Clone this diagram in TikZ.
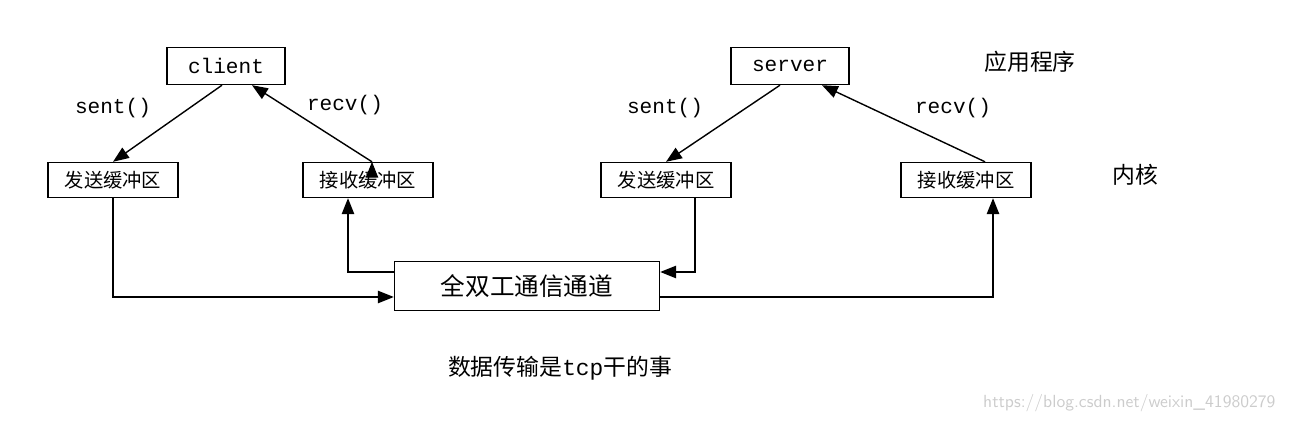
\documentclass[tikz,border=0pt]{standalone}
\usepackage{fontspec}
\setmainfont{Liberation Serif}
\setmonofont{Liberation Mono}
\newfontfamily\cjk{Noto Sans CJK SC}
\usetikzlibrary{arrows.meta}
\begin{document}
\begin{tikzpicture}[x=0.02cm, y=-0.02cm, >={Triangle[length=9pt, width=7pt]}, thick,
    app/.style={draw, minimum width=118*0.02cm, minimum height=37*0.02cm, font=\ttfamily\fontsize{12pt}{14pt}\selectfont, inner sep=0pt},
    buf/.style={draw, minimum width=130*0.02cm, minimum height=35*0.02cm, font=\cjk\fontsize{11pt}{13pt}\selectfont, inner sep=0pt},
    lbl/.style={font=\ttfamily\fontsize{12pt}{14pt}\selectfont},
    note/.style={font=\cjk\fontsize{13pt}{15pt}\selectfont}]
  \useasboundingbox (0,0) rectangle (1290,421);
  % 应用层
  \node[app] (client) at (226,66) {client};
  \node[app] (server) at (790,66) {server};
  % 内核缓冲区
  \node[buf] (sendL) at (113,180) {发送缓冲区};
  \node[buf] (recvL) at (368,180) {接收缓冲区};
  \node[buf] (sendR) at (666,180) {发送缓冲区};
  \node[buf] (recvR) at (966,180) {接收缓冲区};
  % 通道
  \node[draw, minimum width=265*0.02cm, minimum height=49*0.02cm, font=\cjk\fontsize{14pt}{16pt}\selectfont] (chan) at (527,286) {全双工通信通道};
  % 文字
  \node[note] (app) at (1030,62) {应用程序};
  \node[note] (kern) at (1135,175) {内核};
  \node[note] (tcp) at (560,368) {数据传输是{\ttfamily tcp}干的事};
  \node[lbl] (s1) at (113,108) {sent()};
  \node[lbl] (r1) at (345,105) {recv()};
  \node[lbl] (s2) at (665,108) {sent()};
  \node[lbl] (r2) at (953,108) {recv()};
  \node[text=gray!40, font=\fontsize{10pt}{12pt}\selectfont\sffamily, anchor=east] (wm) at (1282,403) {https://blog.csdn.net/weixin\_41980279};
  % 连接
  \draw[->] (client.south) ++(-4,0) coordinate (c1) -- (sendL.north);
  \draw[->] (recvL.north) ++(4,0) coordinate (c2);
  \draw[->] (c2) -- (client.south -| 252,0);
  \draw[->] (server.south) ++(-10,0) -- (sendR.north);
  \draw[->] (recvR.north) ++(19,0) -- (server.south -| 822,0);
  \draw[->] (sendL.south) |- (chan.west |- 0,297);
  \draw[->] (chan.west |- 0,272) -| (recvL.south -| 348,0);
  \draw[->] (sendR.south -| 695,0) |- (chan.east |- 0,272);
  \draw[->] (chan.east |- 0,297) -| (recvR.south -| 993,0);
\end{tikzpicture}
\end{document}
